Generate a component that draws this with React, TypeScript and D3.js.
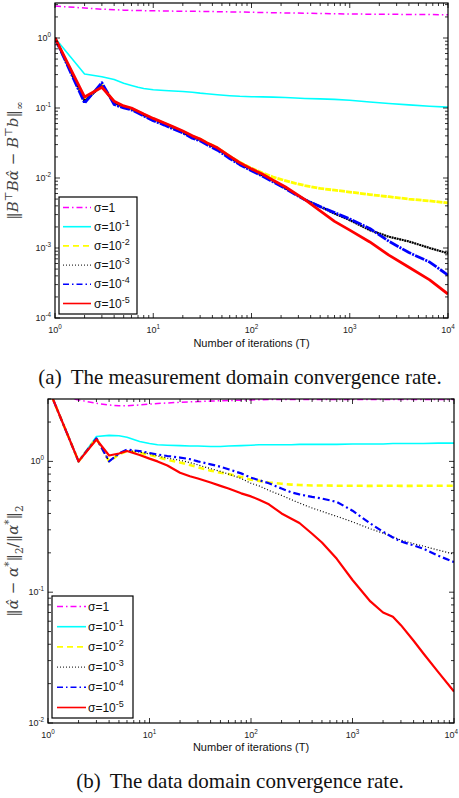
import React, { useRef, useEffect } from 'react';
import * as d3 from 'd3';

// legend / series meta
const sigmaExps = ['', '-1', '-2', '-3', '-4', '-5'];
const sigmaColors = ['#ff00ff', '#00ffff', '#ffff00', '#000000', '#0000ff', '#ff0000'];
const legendDash = ['6,3,1.5,3', null, '6,4', '1,2', '6,3,1.5,3', null];

// (a) measurement domain residual ||B'B a - B'b||_inf
const itersA = [1, 2, 3, 4, 5, 6, 7, 8, 10, 13, 16, 20, 25, 30, 35, 45, 60, 76, 100, 130, 166, 220, 280, 350, 500, 700, 1000, 1600, 2500, 4000, 6500, 10000];
const measS0 = [2.86, 2.68, 2.58, 2.54, 2.5, 2.48, 2.47, 2.46, 2.45, 2.43, 2.42, 2.41, 2.41, 2.4, 2.39, 2.38, 2.36, 2.35, 2.33, 2.31, 2.3, 2.28, 2.27, 2.26, 2.24, 2.22, 2.2, 2.19, 2.18, 2.17, 2.16, 2.15];
const measS1 = [1.0, 0.306, 0.28, 0.255, 0.225, 0.21, 0.198, 0.19, 0.182, 0.178, 0.175, 0.172, 0.168, 0.163, 0.16, 0.155, 0.15, 0.147, 0.145, 0.144, 0.143, 0.141, 0.139, 0.137, 0.135, 0.133, 0.129, 0.122, 0.116, 0.111, 0.106, 0.103];
const measS2 = [1.0, 0.13, 0.215, 0.12, 0.105, 0.098, 0.089, 0.081, 0.07, 0.06, 0.053, 0.046, 0.039, 0.036, 0.032, 0.027, 0.0205, 0.0168, 0.0138, 0.0118, 0.0103, 0.0092, 0.0084, 0.0078, 0.0071, 0.0067, 0.0063, 0.0058, 0.0054, 0.005, 0.0047, 0.0044];
const measS3 = [1.0, 0.125, 0.21, 0.118, 0.103, 0.096, 0.087, 0.079, 0.068, 0.059, 0.052, 0.045, 0.038, 0.035, 0.031, 0.026, 0.0198, 0.016, 0.013, 0.0109, 0.009, 0.0072, 0.0059, 0.0049, 0.0039, 0.0031, 0.0025, 0.0018, 0.00145, 0.00124, 0.001, 0.00084];
const measS4 = [1.0, 0.118, 0.23, 0.112, 0.1, 0.094, 0.085, 0.077, 0.066, 0.057, 0.05, 0.044, 0.037, 0.034, 0.03, 0.025, 0.019, 0.0155, 0.0127, 0.0106, 0.0088, 0.0071, 0.0058, 0.0049, 0.0039, 0.0032, 0.0026, 0.0019, 0.00125, 0.00086, 0.00063, 0.00041];
const measS5 = [1.0, 0.144, 0.198, 0.125, 0.107, 0.1, 0.09, 0.082, 0.071, 0.061, 0.054, 0.047, 0.04, 0.036, 0.032, 0.027, 0.0205, 0.0165, 0.0135, 0.0113, 0.0093, 0.0075, 0.006, 0.0049, 0.0034, 0.0024, 0.0018, 0.00122, 0.00079, 0.00053, 0.00035, 0.00022];

// (b) data domain relative error ||a - a*||_2 / ||a*||_2
const itersB = [1, 2, 3, 4, 5, 6, 8, 10, 12, 15, 20, 25, 30, 40, 50, 60, 80, 100, 120, 150, 200, 250, 300, 400, 500, 700, 1000, 1500, 2000, 2500, 3000, 4000, 5000, 7000, 10000];
const dataS0 = [3.3, 2.95, 2.78, 2.7, 2.66, 2.66, 2.7, 2.74, 2.77, 2.8, 2.83, 2.85, 2.87, 2.89, 2.91, 2.92, 2.94, 2.95, 2.96, 2.97, 2.97, 2.98, 2.97, 2.98, 2.98, 2.97, 2.98, 2.98, 2.97, 2.98, 2.98, 2.97, 2.98, 2.98, 2.98];
const dataS1 = [3.7, 1.0, 1.55, 1.58, 1.57, 1.53, 1.42, 1.37, 1.34, 1.33, 1.32, 1.31, 1.31, 1.3, 1.3, 1.31, 1.32, 1.33, 1.34, 1.34, 1.34, 1.34, 1.35, 1.35, 1.35, 1.35, 1.36, 1.36, 1.36, 1.37, 1.37, 1.37, 1.37, 1.38, 1.38];
const dataS2 = [3.7, 1.0, 1.5, 1.0, 1.13, 1.2, 1.16, 1.12, 1.08, 1.03, 0.98, 0.94, 0.9, 0.85, 0.82, 0.8, 0.76, 0.725, 0.71, 0.69, 0.675, 0.665, 0.66, 0.655, 0.655, 0.652, 0.652, 0.65, 0.652, 0.652, 0.65, 0.65, 0.652, 0.652, 0.652];
const dataS3 = [3.7, 1.0, 1.5, 1.0, 1.15, 1.21, 1.18, 1.14, 1.1, 1.06, 1.02, 0.98, 0.94, 0.88, 0.84, 0.8, 0.74, 0.68, 0.65, 0.6, 0.55, 0.51, 0.48, 0.44, 0.415, 0.38, 0.345, 0.305, 0.283, 0.265, 0.25, 0.235, 0.225, 0.21, 0.195];
const dataS4 = [3.7, 1.0, 1.5, 1.0, 1.15, 1.23, 1.2, 1.16, 1.13, 1.1, 1.07, 1.04, 1.0, 0.95, 0.91, 0.87, 0.81, 0.75, 0.72, 0.68, 0.62, 0.58, 0.56, 0.535, 0.52, 0.49, 0.42, 0.335, 0.29, 0.262, 0.244, 0.228, 0.215, 0.19, 0.17];
const dataS5 = [3.7, 1.0, 1.47, 1.11, 1.15, 1.2, 1.12, 1.05, 1.0, 0.93, 0.82, 0.77, 0.74, 0.69, 0.65, 0.62, 0.57, 0.54, 0.51, 0.47, 0.4, 0.365, 0.338, 0.28, 0.24, 0.18, 0.124, 0.085, 0.07, 0.065, 0.056, 0.0425, 0.034, 0.0245, 0.0174];

const xExps = [0, 1, 2, 3, 4];
const yExpsA = [-4, -3, -2, -1, 0];
const yExpsB = [-2, -1, 0];

// y-axis titles as (text, kind) pieces
const yTitleA = [['‖', 'n'], ['B', 'i'], ['⊤', 'sup'], ['B', 'i'], ['α̂', 'i'], [' − ', 'n'], ['B', 'i'], ['⊤', 'sup'], ['b', 'i'], ['‖', 'n'], ['∞', 'sub']];
const yTitleB = [['‖', 'n'], ['α̂', 'i'], [' − ', 'n'], ['α', 'i'], ['*', 'sup'], ['‖', 'n'], ['2', 'sub'], ['/‖', 'n'], ['α', 'i'], ['*', 'sup'], ['‖', 'n'], ['2', 'sub']];

const SANS = 'Liberation Sans, Arial, Helvetica, sans-serif';
const SERIF = 'Liberation Serif, Times New Roman, serif';
const MATH = 'DejaVu Serif, Liberation Serif, serif';

const panels = [
  {
    id: 'a', iters: itersA, series: [measS0, measS1, measS2, measS3, measS4, measS5],
    yDomain: [1e-4, Math.sqrt(10)], yExps: yExpsA,
    left: 55, right: 448, top: 3, bottom: 318,
    widths: [1.5, 1.6, 2.8, 2.2, 2.8, 2.8],
    dashes: ['6,3,1.5,3', null, '6,1', '2,0.6', '10,1.2,2,1.2', null],
    legend: { x: 59, y: 197, w: 78, h: 117, lineX0: 63, lineX1: 91, textX: 94 },
    xTitleY: 347, caption: '(a)', captionText: 'The measurement domain convergence rate.', captionY: 384,
    yTitle: yTitleA, yTitleX: 18, yTitleSize: 15,
  },
  {
    id: 'b', iters: itersB, series: [dataS0, dataS1, dataS2, dataS3, dataS4, dataS5],
    yDomain: [1e-2, 3], yExps: yExpsB,
    left: 48, right: 454, top: 399, bottom: 723,
    widths: [1.5, 1.6, 2.6, 1.2, 2.2, 2.2],
    dashes: ['6,3,1.5,3', null, '6,4', '1,2', '7,3,2,3', null],
    legend: { x: 52, y: 596, w: 81, h: 122, lineX0: 57, lineX1: 86, textX: 88 },
    xTitleY: 751, caption: '(b)', captionText: 'The data domain convergence rate.', captionY: 788,
    yTitle: yTitleB, yTitleX: 18, yTitleSize: 15,
  },
];

function addRich(text, pieces, size) {
  let shift = 0;
  pieces.forEach(([str, kind]) => {
    const target = kind === 'sup' ? -size * 0.4 : kind === 'sub' ? size * 0.3 : 0;
    const t = text.append('tspan').text(str).attr('dy', target - shift);
    shift = target;
    if (kind === 'sup' || kind === 'sub') t.attr('font-size', size * 0.7);
    if (kind === 'i') t.attr('font-style', 'italic');
  });
}

function powLabel(g, x, y, exp, anchor, size) {
  const t = g.append('text')
    .attr('x', x).attr('y', y)
    .attr('text-anchor', anchor)
    .attr('font-family', SANS)
    .attr('font-size', size)
    .attr('fill', '#222');
  t.append('tspan').text('10');
  t.append('tspan').text(String(exp)).attr('font-size', size * 0.7).attr('dy', -size * 0.45);
}

function logTicks(lo, hi) {
  const out = [];
  for (let k = Math.floor(Math.log10(lo)); k <= Math.ceil(Math.log10(hi)); k++) {
    for (let m = 1; m <= 9; m++) {
      const v = m * Math.pow(10, k);
      if (v >= lo * 0.999 && v <= hi * 1.001) out.push({ v, major: m === 1 });
    }
  }
  return out;
}

function drawPanel(svg, p) {
  const x = d3.scaleLog().domain([1, 1e4]).range([p.left, p.right]);
  const y = d3.scaleLog().domain(p.yDomain).range([p.bottom, p.top]);

  svg.append('clipPath').attr('id', `clip-${p.id}`)
    .append('rect')
    .attr('x', p.left).attr('y', p.top)
    .attr('width', p.right - p.left).attr('height', p.bottom - p.top);

  const line = d3.line()
    .x((d, i) => x(p.iters[i]))
    .y(d => y(d));

  const lines = svg.append('g').attr('clip-path', `url(#clip-${p.id})`);
  p.series.forEach((vals, k) => {
    lines.append('path')
      .datum(vals)
      .attr('fill', 'none')
      .attr('stroke', sigmaColors[k])
      .attr('stroke-width', p.widths[k])
      .attr('stroke-dasharray', p.dashes[k])
      .attr('stroke-linejoin', 'round')
      .attr('d', line);
  });

  // ticks on all four sides, pointing inward
  const ax = svg.append('g').attr('stroke', '#000').attr('stroke-width', 0.8);
  logTicks(1, 1e4).forEach(({ v, major }) => {
    const len = major ? 5 : 3;
    ax.append('line').attr('x1', x(v)).attr('x2', x(v)).attr('y1', p.bottom).attr('y2', p.bottom - len);
    ax.append('line').attr('x1', x(v)).attr('x2', x(v)).attr('y1', p.top).attr('y2', p.top + len);
  });
  logTicks(p.yDomain[0], p.yDomain[1]).forEach(({ v, major }) => {
    const len = major ? 5 : 3;
    ax.append('line').attr('y1', y(v)).attr('y2', y(v)).attr('x1', p.left).attr('x2', p.left + len);
    ax.append('line').attr('y1', y(v)).attr('y2', y(v)).attr('x1', p.right).attr('x2', p.right - len);
  });

  svg.append('rect')
    .attr('x', p.left).attr('y', p.top)
    .attr('width', p.right - p.left).attr('height', p.bottom - p.top)
    .attr('fill', 'none').attr('stroke', '#000').attr('stroke-width', 1.2);

  const labels = svg.append('g');
  xExps.forEach(e => {
    const tx = x(Math.pow(10, e));
    // keep the last label inside the page
    if (tx + 9 > 458) powLabel(labels, 458, p.bottom + 15, e, 'end', 9);
    else powLabel(labels, tx, p.bottom + 15, e, 'middle', 9);
  });
  p.yExps.forEach(e => powLabel(labels, p.left - 4, y(Math.pow(10, e)) + 3, e, 'end', 9));

  // legend
  const L = p.legend;
  const lg = svg.append('g');
  lg.append('rect')
    .attr('x', L.x).attr('y', L.y).attr('width', L.w).attr('height', L.h)
    .attr('fill', '#fff').attr('stroke', '#000').attr('stroke-width', 1.2);
  const rowY = d3.scalePoint().domain(sigmaExps.map((_, i) => i)).range([L.y + 10.5, L.y + L.h - 10.5]);
  sigmaExps.forEach((e, k) => {
    const ry = rowY(k);
    lg.append('line')
      .attr('x1', L.lineX0).attr('x2', L.lineX1).attr('y1', ry).attr('y2', ry)
      .attr('stroke', sigmaColors[k]).attr('stroke-width', k === 3 ? 1 : 1.6)
      .attr('stroke-dasharray', legendDash[k]);
    const t = lg.append('text')
      .attr('x', L.textX).attr('y', ry + 4)
      .attr('font-family', SANS).attr('font-size', 12).attr('fill', '#111');
    if (e === '') {
      t.append('tspan').text('σ=1');
    } else {
      t.append('tspan').text('σ=10');
      t.append('tspan').text(e).attr('font-size', 9).attr('dy', -5);
    }
  });

  svg.append('text')
    .attr('x', (p.left + p.right) / 2).attr('y', p.xTitleY)
    .attr('text-anchor', 'middle')
    .attr('font-family', SANS).attr('font-size', 11).attr('fill', '#111')
    .text('Number of iterations (T)');

  const yt = svg.append('text')
    .attr('transform', `translate(${p.yTitleX},${(p.top + p.bottom) / 2}) rotate(-90)`)
    .attr('text-anchor', 'middle')
    .attr('font-family', MATH).attr('font-size', p.yTitleSize).attr('fill', '#444');
  addRich(yt, p.yTitle, p.yTitleSize);

  const cap = svg.append('text')
    .attr('x', 240).attr('y', p.captionY)
    .attr('text-anchor', 'middle')
    .attr('font-family', SERIF).attr('font-size', 21).attr('fill', '#111');
  cap.append('tspan').text(p.caption);
  cap.append('tspan').attr('dx', 9).text(p.captionText);
}

export default function App() {
  const svgRef = useRef(null);

  useEffect(() => {
    const svg = d3.select(svgRef.current);
    svg.selectAll('*').remove();
    svg.append('rect').attr('width', 459).attr('height', 798).attr('fill', '#fff');
    panels.forEach(p => drawPanel(svg, p));
  }, []);

  return (
    <svg ref={svgRef} width={459} height={798}
      style={{ position: 'absolute', left: 0, top: 0, background: '#fff' }} />
  );
}
